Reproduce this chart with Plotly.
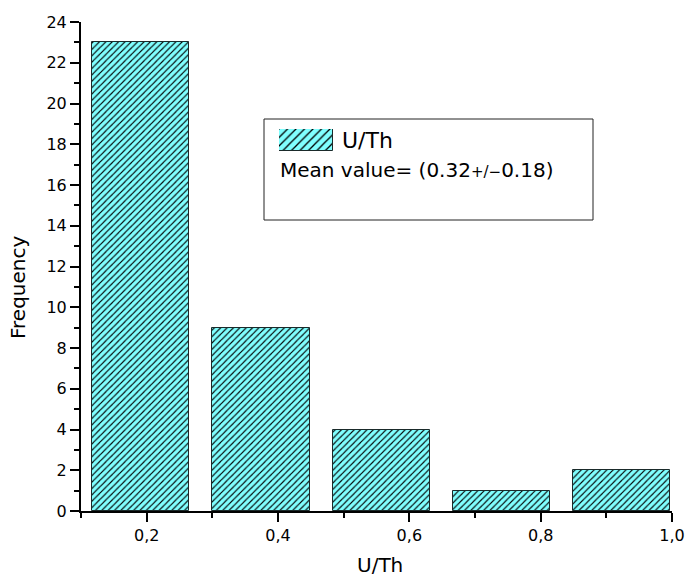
import plotly.graph_objects as go

# ---- data ----
bin_centers = [0.1906, 0.374, 0.557, 0.740, 0.923]
frequency = [23, 9, 4, 1, 2]
bar_width = 0.148
series_name = "U/Th"
mean_text = "Mean value= (0.32<span style=\"font-size:15px\">+/\u2212</span>0.18)"
x_title = "U/Th"
y_title = "Frequency"

# ---- layout geometry (pixels) ----
W, H = 685, 579
L, R, T, B = 81, 13, 22, 68
pw, ph = W - L - R, H - T - B


def px(x):
    return (x - L) / pw


def py(y):
    return (H - B - y) / ph


FONT = "DejaVu Sans"
fill = "#80FFFF"
edge = "#1a2a2a"
pattern = dict(shape="/", fgcolor="black", bgcolor=fill, size=4.5, solidity=0.25, fillmode="replace")

fig = go.Figure()
fig.add_trace(go.Bar(
    x=bin_centers, y=frequency, width=bar_width, name=series_name,
    marker=dict(color=fill, pattern=pattern, line=dict(color=edge, width=1)),
    showlegend=False,
))
# legend swatch on its own tiny overlay axes
fig.add_trace(go.Bar(
    x=[0], y=[1], width=1, xaxis="x2", yaxis="y2", showlegend=False, hoverinfo="skip",
    marker=dict(color=fill, pattern=dict(shape="/", fgcolor="black", bgcolor=fill, size=6, solidity=0.22, fillmode="replace"),
                line=dict(color=edge, width=1)),
))

fig.update_layout(
    width=W, height=H,
    margin=dict(l=L, r=R, t=T, b=B, autoexpand=False),
    paper_bgcolor="white", plot_bgcolor="white",
    separators=", ",
    font=dict(family=FONT, size=16, color="black"),
    xaxis=dict(
        range=[0.1, 1.0], tick0=0.2, dtick=0.2, tickformat=".1f", automargin=False,
        showgrid=False, zeroline=False, showline=True, linecolor="black", linewidth=2,
        ticks="outside", ticklen=9, tickwidth=2, tickcolor="black",
        minor=dict(tick0=0.1, dtick=0.1, ticks="outside", ticklen=5, tickwidth=2, tickcolor="black", showgrid=False),
        tickfont=dict(family=FONT, size=16),
    ),
    yaxis=dict(
        range=[0, 24], tick0=0, dtick=2, automargin=False,
        showgrid=False, zeroline=False, showline=True, linecolor="black", linewidth=2,
        ticks="outside", ticklen=9, tickwidth=2, tickcolor="black",
        minor=dict(tick0=0, dtick=1, ticks="outside", ticklen=5, tickwidth=2, tickcolor="black", showgrid=False),
        tickfont=dict(family=FONT, size=16),
    ),
    xaxis2=dict(domain=[px(279), px(333)], range=[-0.5, 0.5], anchor="y2", visible=False, fixedrange=True),
    yaxis2=dict(domain=[py(151), py(129)], range=[0, 1], anchor="x2", visible=False, fixedrange=True),
    shapes=[dict(type="rect", xref="paper", yref="paper",
                 x0=px(264), x1=px(593), y0=py(220), y1=py(119),
                 line=dict(color="#222", width=1), fillcolor="rgba(0,0,0,0)", layer="below")],
    annotations=[
        dict(text=series_name, xref="paper", yref="paper", x=px(340), y=py(140),
             xanchor="left", yanchor="middle", showarrow=False, font=dict(family=FONT, size=22)),
        dict(text=mean_text, xref="paper", yref="paper", x=px(278), y=py(170),
             xanchor="left", yanchor="middle", showarrow=False, font=dict(family=FONT, size=20)),
        dict(text=x_title, xref="paper", yref="paper", x=px(380), y=py(565),
             xanchor="center", yanchor="middle", showarrow=False, font=dict(family=FONT, size=20)),
        dict(text=y_title, xref="paper", yref="paper", x=px(18), y=py(288), textangle=-90,
             xanchor="center", yanchor="middle", showarrow=False, font=dict(family=FONT, size=20)),
    ],
    bargap=0,
)

fig.write_html("out.html", config={"displayModeBar": False},
               post_script="document.body.style.margin='0';document.body.style.overflow='hidden';")
